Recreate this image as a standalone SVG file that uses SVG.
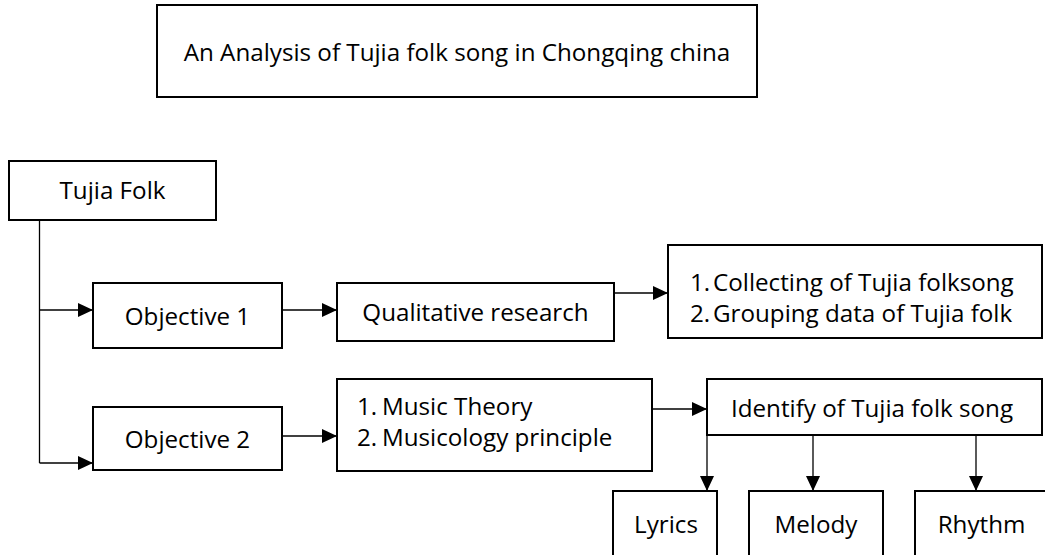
<svg xmlns="http://www.w3.org/2000/svg" width="1045" height="555" viewBox="0 0 1045 555">
<style>
.box{fill:#fff;stroke:#000;stroke-width:2}
.t{font-family:"Open Sans","Noto Sans",sans-serif;font-size:24.2px;fill:#000}
.c{text-anchor:middle}
.ln{stroke:#000;stroke-width:1.3;fill:none}
</style>
<defs>
<marker id="ah" markerUnits="userSpaceOnUse" markerWidth="15" markerHeight="14" refX="15" refY="7" orient="auto">
<path d="M0,0 L15,7 L0,14 z" fill="#000"/>
</marker>
</defs>
<rect width="1045" height="555" fill="#fff"/>
<g id="title"><rect class="box" x="157" y="5" width="600" height="92"/><text class="t c" x="457" y="61">An Analysis of Tujia folk song in Chongqing china</text></g>
<g id="tujia"><rect class="box" x="9" y="161" width="207" height="59"/><text class="t c" x="112.5" y="199">Tujia Folk</text></g>
<g id="obj1"><rect class="box" x="93" y="283" width="189" height="65"/><text class="t c" x="187.5" y="325">Objective 1</text></g>
<g id="obj2"><rect class="box" x="93" y="407" width="189" height="63"/><text class="t c" x="187.5" y="448">Objective 2</text></g>
<g id="qual"><rect class="box" x="337" y="283" width="277" height="58"/><text class="t c" x="475.5" y="321">Qualitative research</text></g>
<g id="collect"><rect class="box" x="668" y="245" width="374" height="93"/>
<text class="t"><tspan x="690" y="291">1.</tspan><tspan x="713" y="291">Collecting of Tujia folksong</tspan></text>
<text class="t"><tspan x="690" y="322">2.</tspan><tspan x="713" y="322">Grouping data of Tujia folk</tspan></text></g>
<g id="theory"><rect class="box" x="337" y="379" width="315" height="92"/>
<text class="t"><tspan x="357" y="415">1.</tspan><tspan x="382" y="415">Music Theory</tspan></text>
<text class="t"><tspan x="357" y="446">2.</tspan><tspan x="382" y="446">Musicology principle</tspan></text></g>
<g id="identify"><rect class="box" x="707" y="379" width="335" height="56"/><text class="t c" x="872" y="417">Identify of Tujia folk song</text></g>
<g id="lyrics"><rect class="box" x="613" y="491" width="104" height="70"/><text class="t c" x="666" y="533">Lyrics</text></g>
<g id="melody"><rect class="box" x="749" y="491" width="134" height="70"/><text class="t c" x="816" y="533">Melody</text></g>
<g id="rhythm"><rect class="box" x="915" y="491" width="135" height="70"/><text class="t c" x="981.5" y="533">Rhythm</text></g>
<g id="connectors">
<path class="ln" d="M39.5,220 V463"/>
<path class="ln" d="M39.5,310 H93" marker-end="url(#ah)"/>
<path class="ln" d="M39.5,463 H93" marker-end="url(#ah)"/>
<path class="ln" d="M282,310 H337" marker-end="url(#ah)"/>
<path class="ln" d="M282,436 H337" marker-end="url(#ah)"/>
<path class="ln" d="M614,293 H668" marker-end="url(#ah)"/>
<path class="ln" d="M652,409 H707" marker-end="url(#ah)"/>
<path class="ln" d="M707,435 V491" marker-end="url(#ah)"/>
<path class="ln" d="M813,435 V491" marker-end="url(#ah)"/>
<path class="ln" d="M976,435 V491" marker-end="url(#ah)"/>
</g>
</svg>
